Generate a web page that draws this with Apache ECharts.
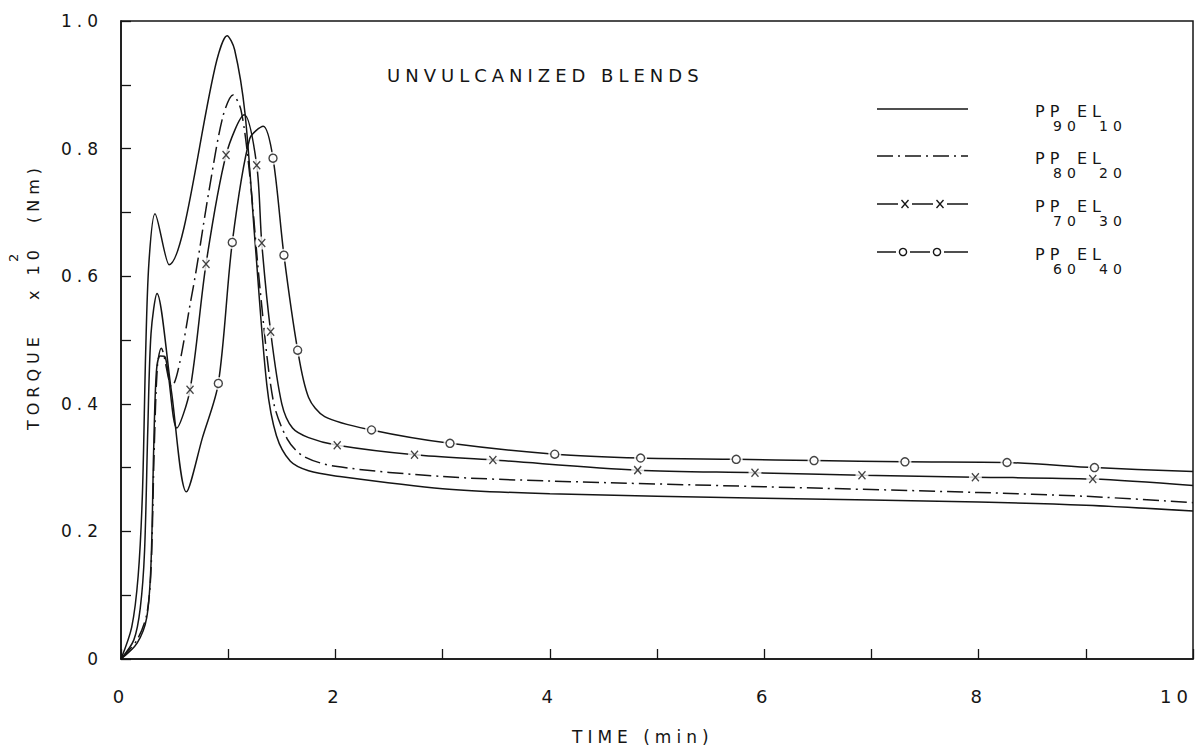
<!DOCTYPE html>
<html>
<head>
<meta charset="utf-8">
<script src="https://cdn.jsdelivr.net/npm/echarts@6/dist/echarts.min.js"></script>
<style>
  html, body { margin: 0; padding: 0; background: #fff; }
  #chart { width: 1204px; height: 749px; }
  /* stencil-style lettering: widely spaced capitals */
  #chart text { letter-spacing: 5px; }
</style>
</head>
<body>
<div id="chart"></div>
<script>
// Tick labels
const xTickLabels = ['0', '2', '4', '6', '8', '10'];
const yTickLabels = ['0', '0.2', '0.4', '0.6', '0.8', '1.0'];

// Torque (x 10^2 N m) against mixing time (min), unvulcanized PP/EL blends
const pp90el10 = [
  [0, 0], [0.1, 0.05], [0.16, 0.13], [0.2, 0.26], [0.23, 0.48], [0.26, 0.62], [0.317, 0.698],
  [0.448, 0.618], [0.893, 0.938], [0.99, 0.977], [1.06, 0.955], [1.157, 0.855], [1.25, 0.655],
  [1.36, 0.43], [1.45, 0.35], [1.58, 0.31], [1.75, 0.295], [2, 0.287], [3, 0.267], [4, 0.259],
  [6, 0.252], [8, 0.246], [9, 0.241], [10, 0.232]
];

const pp80el20 = [
  [0, 0], [0.15, 0.03], [0.24, 0.07], [0.28, 0.14], [0.31, 0.33], [0.34, 0.46], [0.375, 0.487],
  [0.47, 0.427], [0.66, 0.57], [0.82, 0.733], [0.95, 0.85], [1.045, 0.884], [1.12, 0.86],
  [1.2, 0.76], [1.3, 0.575], [1.42, 0.405], [1.55, 0.345], [1.7, 0.318], [2, 0.302], [3, 0.286],
  [4, 0.279], [6, 0.27], [8, 0.261], [9, 0.255], [10, 0.245]
];

const pp70el30 = [
  [0, 0], [0.15, 0.025], [0.24, 0.065], [0.28, 0.15], [0.305, 0.33], [0.33, 0.45], [0.365, 0.475],
  [0.41, 0.474], [0.52, 0.362], [1.15, 0.853], [1.5, 0.4], [1.6, 0.362], [1.75, 0.347], [10, 0.272]
];
// points of the PP70/EL30 curve carrying an "x"
const pp70el30Marks = [
  [0.644, 0.422], [0.793, 0.619], [0.98, 0.79], [1.266, 0.774], [1.313, 0.652], [1.396, 0.513],
  [2.017, 0.335], [2.738, 0.32], [3.469, 0.312], [4.82, 0.296], [5.914, 0.292], [6.912, 0.288],
  [7.97, 0.285], [9.065, 0.282]
];

const pp60el40 = [
  [0, 0], [0.12, 0.03], [0.18, 0.08], [0.22, 0.17], [0.25, 0.36], [0.28, 0.51], [0.336, 0.573],
  [0.47, 0.42], [0.61, 0.262], [0.76, 0.347], [1.2, 0.815], [1.327, 0.835], [1.75, 0.41],
  [1.9, 0.38], [10, 0.294]
];
// points of the PP60/EL40 curve carrying an "o"
const pp60el40Marks = [
  [0.908, 0.432], [1.038, 0.653], [1.418, 0.785], [1.52, 0.633], [1.648, 0.484], [2.337, 0.359],
  [3.069, 0.338], [4.046, 0.321], [4.847, 0.315], [5.739, 0.313], [6.465, 0.311], [7.313, 0.309],
  [8.265, 0.308], [9.081, 0.3]
];

// blend compositions: PP content, EL content
const blendSubs = [['90', '10'], ['80', '20'], ['70', '30'], ['60', '40']];

const INK = '#151515';
const FONT = '"DejaVu Sans", sans-serif';
const DASH_DOT = [16, 5, 2, 5];

function curve(points, marks, dash) {
  const data = points.concat(marks || []).sort((a, b) => a[0] - b[0]);
  return {
    type: 'line', data, symbol: 'none', smooth: 0.3,
    lineStyle: { color: INK, width: 1.5, type: dash || 'solid' },
    z: 2, silent: true, animation: false
  };
}
function halo(marks) {
  return { type: 'scatter', data: marks, symbol: 'circle', symbolSize: 13,
    itemStyle: { color: '#fff' }, z: 3, silent: true, animation: false };
}
function crossMarks(marks) {
  return { type: 'scatter', data: marks, symbol: 'path://M0,0L10,12M10,0L0,12',
    symbolSize: [7, 8], itemStyle: { color: 'none', borderColor: INK, borderWidth: 1.4 },
    z: 4, silent: true, animation: false };
}
function ringMarks(marks) {
  return { type: 'scatter', data: marks, symbol: 'circle', symbolSize: 8,
    itemStyle: { color: '#fff', borderColor: INK, borderWidth: 1.4 },
    z: 4, silent: true, animation: false };
}

// key drawn at the upper right
const keyY = [109, 156, 204, 252];
const keyX0 = 877, keyX1 = 968;
const key = [];
keyY.forEach((y, i) => {
  key.push({ type: 'line', shape: { x1: keyX0, y1: y, x2: keyX1, y2: y },
    style: { stroke: INK, lineWidth: 1.5, lineDash: i === 1 ? DASH_DOT : null } });
  if (i === 2) {
    [905, 940].forEach(cx => {
      key.push({ type: 'rect', shape: { x: cx - 7, y: y - 4, width: 14, height: 8 }, style: { fill: '#fff' } });
      key.push({ type: 'line', shape: { x1: cx - 3.5, y1: y - 4, x2: cx + 3.5, y2: y + 4 }, style: { stroke: INK, lineWidth: 1.4 } });
      key.push({ type: 'line', shape: { x1: cx + 3.5, y1: y - 4, x2: cx - 3.5, y2: y + 4 }, style: { stroke: INK, lineWidth: 1.4 } });
    });
  }
  if (i === 3) {
    [903, 937].forEach(cx => {
      key.push({ type: 'rect', shape: { x: cx - 7, y: y - 4, width: 14, height: 8 }, style: { fill: '#fff' } });
      key.push({ type: 'circle', shape: { cx, cy: y, r: 3.6 }, style: { fill: '#fff', stroke: INK, lineWidth: 1.4 } });
    });
  }
  const ty = y + 2, sy = y + 17;
  key.push({ type: 'text', x: 1035, y: ty, style: { text: 'PP', font: '16px ' + FONT, fill: INK, textAlign: 'left', textVerticalAlign: 'middle' } });
  key.push({ type: 'text', x: 1053, y: sy, style: { text: blendSubs[i][0], font: '14px ' + FONT, fill: INK, textAlign: 'left', textVerticalAlign: 'middle' } });
  key.push({ type: 'text', x: 1077, y: ty, style: { text: 'EL', font: '16px ' + FONT, fill: INK, textAlign: 'left', textVerticalAlign: 'middle' } });
  key.push({ type: 'text', x: 1099, y: sy, style: { text: blendSubs[i][1], font: '14px ' + FONT, fill: INK, textAlign: 'left', textVerticalAlign: 'middle' } });
});

const labels = [
  { type: 'text', x: 387, y: 75, style: { text: 'UNVULCANIZED BLENDS', font: '18px ' + FONT, fill: INK, textAlign: 'left', textVerticalAlign: 'middle' } },
  { type: 'text', x: 572, y: 737, style: { text: 'TIME (min)', font: '17px ' + FONT, fill: INK, textAlign: 'left', textVerticalAlign: 'middle' } },
  { type: 'text', x: 33, y: 430, rotation: Math.PI / 2, style: { text: 'TORQUE', font: '16px ' + FONT, fill: INK, textAlign: 'left', textVerticalAlign: 'middle' } },
  { type: 'text', x: 33, y: 300, rotation: Math.PI / 2, style: { text: 'x 10', font: '16px ' + FONT, fill: INK, textAlign: 'left', textVerticalAlign: 'middle' } },
  { type: 'text', x: 13, y: 262, rotation: Math.PI / 2, style: { text: '2', font: '13px ' + FONT, fill: INK, textAlign: 'left', textVerticalAlign: 'middle' } },
  { type: 'text', x: 33, y: 223, rotation: Math.PI / 2, style: { text: '(Nm)', font: '16px ' + FONT, fill: INK, textAlign: 'left', textVerticalAlign: 'middle' } }
];

const chart = echarts.init(document.getElementById('chart'), null, { renderer: 'svg' });
chart.setOption({
  animation: false,
  backgroundColor: '#fff',
  grid: { left: 121, top: 21, width: 1072, height: 638, show: true, borderColor: INK, borderWidth: 1.5, backgroundColor: 'transparent' },
  xAxis: {
    type: 'value', min: 0, max: 10, interval: 1,
    axisLine: { show: true, lineStyle: { color: INK, width: 1.5 } },
    axisTick: { show: true, inside: true, length: 10, lineStyle: { color: INK, width: 1.3 } },
    axisLabel: {
      margin: 28, color: INK, fontFamily: FONT, fontSize: 18, alignMaxLabel: 'right',
      formatter: v => (Math.round(v) % 2 === 0 ? xTickLabels[Math.round(v) / 2] : '')
    },
    splitLine: { show: false }
  },
  yAxis: {
    type: 'value', min: 0, max: 1, interval: 0.1,
    axisLine: { show: true, lineStyle: { color: INK, width: 1.5 } },
    axisTick: { show: true, inside: true, length: 10, lineStyle: { color: INK, width: 1.3 } },
    axisLabel: {
      margin: 18, color: INK, fontFamily: FONT, fontSize: 17,
      formatter: v => { const k = Math.round(v * 10); return k % 2 === 0 ? yTickLabels[k / 2] : ''; }
    },
    splitLine: { show: false }
  },
  series: [
    curve(pp90el10),
    curve(pp80el20, null, DASH_DOT),
    curve(pp70el30, pp70el30Marks),
    curve(pp60el40, pp60el40Marks),
    halo(pp70el30Marks),
    halo(pp60el40Marks),
    crossMarks(pp70el30Marks),
    ringMarks(pp60el40Marks)
  ],
  graphic: { elements: labels.concat(key) }
});
</script>
</body>
</html>
